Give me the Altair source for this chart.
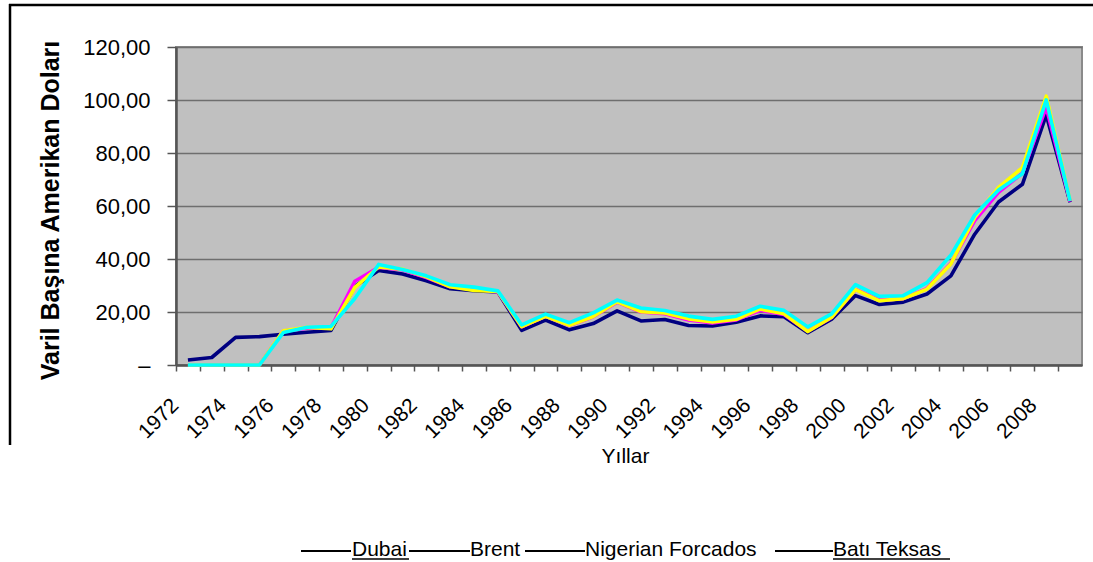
import altair as alt
import pandas as pd

# Crude oil spot prices, US dollars per barrel
years = list(range(1972, 2010))

dubai = [1.90, 2.83, 10.41, 10.70, 11.63, 12.38, 13.03, 29.75, 35.69, 34.32,
         31.80, 28.78, 28.06, 27.53, 13.10, 16.95, 13.27, 15.62, 20.45, 16.63,
         17.17, 14.93, 14.74, 16.10, 18.52, 18.23, 12.21, 17.25, 26.20, 22.81,
         23.74, 26.78, 33.64, 49.35, 61.50, 68.19, 94.34, 61.39]

brent = [0, 0, 0, 0, 12.80, 13.92, 14.02, 31.61, 36.83, 35.93,
         32.97, 29.55, 28.78, 27.56, 14.43, 18.44, 14.92, 18.23, 23.73, 20.00,
         19.32, 16.97, 15.82, 17.02, 20.67, 19.09, 12.72, 17.97, 28.50, 24.44,
         25.02, 28.83, 38.27, 54.52, 65.14, 72.39, 97.26, 61.67]

forcados = [0, 0, 0, 0, 12.87, 14.21, 13.65, 29.25, 36.98, 36.18,
            33.29, 29.54, 28.14, 27.75, 14.46, 18.39, 15.00, 18.30, 23.85, 20.11,
            19.61, 17.41, 16.25, 17.26, 21.16, 19.33, 12.62, 18.00, 28.42, 24.23,
            25.04, 28.66, 38.13, 55.69, 67.07, 74.48, 101.43, 61.90]

wti = [0, 0, 0, 0, 12.23, 14.22, 14.55, 25.08, 37.96, 36.08,
       33.65, 30.30, 29.39, 27.98, 15.10, 19.18, 15.97, 19.68, 24.50, 21.54,
       20.57, 18.45, 17.21, 18.42, 22.16, 20.61, 14.39, 19.31, 30.37, 25.93,
       26.16, 31.07, 41.49, 56.59, 66.02, 72.20, 100.06, 61.92]

series_names = ["Dubai", "Brent", "Nigerian  Forcados", "Batı Teksas"]
series_values = [dubai, brent, forcados, wti]
series_colors = ["#000080", "#FF00FF", "#FFFF00", "#00FFFF"]

y_ticks = [0, 20, 40, 60, 80, 100, 120]

rows = []
for name, vals in zip(series_names, series_values):
    for yr, v in zip(years, vals):
        rows.append({"Yıl": yr, "Seri": name, "Fiyat": v})
df = pd.DataFrame(rows)

FONT = "Liberation Sans"
W, H = 906, 318
step = W / len(years)

x_enc = alt.X(
    "Yıl:Q",
    scale=alt.Scale(domain=[years[0] - 0.5, years[-1] + 0.5], nice=False, zero=False),
    axis=alt.Axis(
        values=years,
        tickOffset=-step / 2,
        labelOffset=-1,
        labelExpr="datum.value % 2 == 0 ? '' + datum.value : ''",
        labelAngle=-45,
        labelAlign="right",
        labelBaseline="middle",
        labelPadding=31,
        labelFontSize=21,
        labelOverlap=False,
        labelFlush=False,
        tickSize=6,
        tickColor="#555555",
        tickWidth=1.5,
        grid=False,
        domainColor="#555555",
        domainWidth=2.5,
        title="Yıllar",
        titleFontSize=21,
        titleFontWeight="normal",
        titleX=449,
        titleY=97,
        titleBaseline="alphabetic",
        titleAlign="center",
    ),
)

y_enc = alt.Y(
    "Fiyat:Q",
    scale=alt.Scale(domain=[0, 120], nice=False),
    axis=alt.Axis(
        values=y_ticks,
        labelExpr="datum.value == 0 ? '–' : replace(format(datum.value, '.2f'), '.', ',')",
        labelFontSize=22,
        labelPadding=17,
        tickSize=9,
        tickColor="#555555",
        tickWidth=1.5,
        grid=True,
        gridColor="#6e6e6e",
        gridWidth=1.5,
        domainColor="#555555",
        domainWidth=2.5,
        title="Varil Başına Amerikan Doları",
        titleFontSize=25,
        titleFontWeight="bold",
        titleAngle=-90,
        titleX=-118,
        titleY=163,
        titleAlign="center",
        titleBaseline="alphabetic",
    ),
)

# one layer per series so the later series draw on top
lines = [
    alt.Chart(df)
    .transform_filter(alt.datum.Seri == name)
    .mark_line(color=col, strokeWidth=3.6, strokeJoin="round")
    .encode(x=x_enc, y=y_enc)
    for name, col in zip(series_names, series_colors)
]

one = pd.DataFrame({"k": [0]})


def hline(x0, x1, y, width=2):
    return alt.Chart(one).mark_rule(color="black", strokeWidth=width).encode(
        x=alt.value(x0), x2=alt.value(x1), y=alt.value(y)
    )


def vline(x, y0, y1, width=2):
    return alt.Chart(one).mark_rule(color="black", strokeWidth=width).encode(
        x=alt.value(x), y=alt.value(y0), y2=alt.value(y1)
    )


def label(text, x, y):
    return alt.Chart(one).mark_text(
        text=text, align="left", baseline="alphabetic", fontSize=21, font=FONT, color="black"
    ).encode(x=alt.value(x), y=alt.value(y))


# chart frame (top and left edges)
frame = [hline(-167, 917, -42, 2.5), vline(-166, -43, 398, 2.5)]

# legend row
LY_TEXT, LY_LINE, LY_UNDER = 509, 504, 512
legend = [
    hline(125, 175, LY_LINE),
    label("Dubai", 176, LY_TEXT),
    hline(176, 233, LY_UNDER, 1.5),
    hline(233, 294, LY_LINE),
    label("Brent", 294, LY_TEXT),
    hline(349, 409, LY_LINE),
    label("Nigerian  Forcados", 409, LY_TEXT),
    hline(599, 657, LY_LINE),
    label("Batı Teksas", 657, LY_TEXT),
    hline(657, 774, LY_UNDER, 1.5),
]

chart = (
    alt.layer(*lines, *frame, *legend)
    .properties(
        width=W,
        height=H,
        autosize=alt.AutoSizeParams(type="none"),
        padding={"left": 176, "top": 47, "right": 11, "bottom": 197},
        background="white",
    )
    .configure_view(fill="#C0C0C0", stroke="#8a8a8a", strokeWidth=2)
    .configure_axis(labelFont=FONT, titleFont=FONT, labelColor="black", titleColor="black")
)

chart.save("out.html", embed_options={"renderer": "svg", "actions": False})
